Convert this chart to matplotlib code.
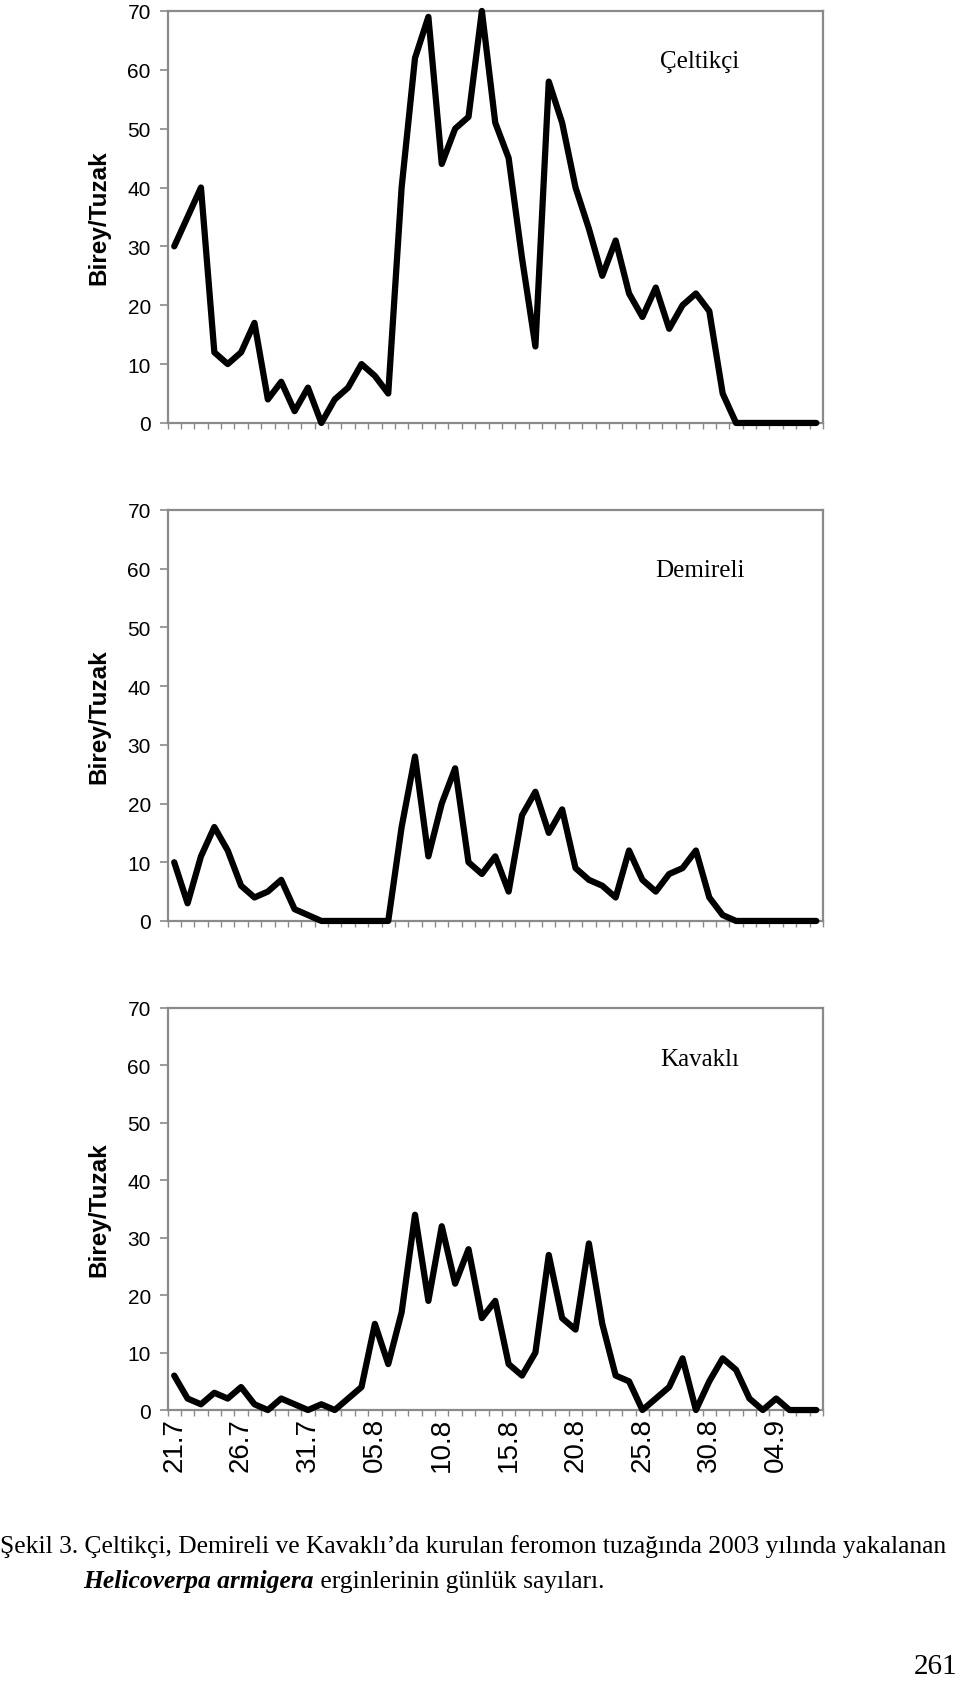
import numpy as np
import matplotlib
matplotlib.use('Agg')
from matplotlib import pyplot as plt

plt.rcParams['font.family'] = ['Liberation Sans', 'DejaVu Sans']

# daily trap catches, 21.7 - 07.9 (2003)
dates = ['21.7', '22.7', '23.7', '24.7', '25.7', '26.7', '27.7', '28.7', '29.7', '30.7',
         '31.7', '01.8', '02.8', '03.8', '04.8', '05.8', '06.8', '07.8', '08.8', '09.8',
         '10.8', '11.8', '12.8', '13.8', '14.8', '15.8', '16.8', '17.8', '18.8', '19.8',
         '20.8', '21.8', '22.8', '23.8', '24.8', '25.8', '26.8', '27.8', '28.8', '29.8',
         '30.8', '31.8', '01.9', '02.9', '03.9', '04.9', '05.9', '06.9', '07.9']
tick_labels = ['21.7', '26.7', '31.7', '05.8', '10.8', '15.8', '20.8', '25.8', '30.8', '04.9']

celtikci = [30, 35, 40, 12, 10, 12, 17, 4, 7, 2,
            6, 0, 4, 6, 10, 8, 5, 40, 62, 69,
            44, 50, 52, 70, 51, 45, 28, 13, 58, 51,
            40, 33, 25, 31, 22, 18, 23, 16, 20, 22,
            19, 5, 0, 0, 0, 0, 0, 0, 0]
demireli = [10, 3, 11, 16, 12, 6, 4, 5, 7, 2,
            1, 0, 0, 0, 0, 0, 0, 16, 28, 11,
            20, 26, 10, 8, 11, 5, 18, 22, 15, 19,
            9, 7, 6, 4, 12, 7, 5, 8, 9, 12,
            4, 1, 0, 0, 0, 0, 0, 0, 0]
kavakli = [6, 2, 1, 3, 2, 4, 1, 0, 2, 1,
           0, 1, 0, 2, 4, 15, 8, 17, 34, 19,
           32, 22, 28, 16, 19, 8, 6, 10, 27, 16,
           14, 29, 15, 6, 5, 0, 2, 4, 9, 0,
           5, 9, 7, 2, 0, 2, 0, 0, 0]

GRAY = '#8a8a8a'
SERIF = ['Liberation Serif', 'DejaVu Serif']

fig = plt.figure(figsize=(9.6, 16.83), dpi=100)
x = np.arange(len(dates))

panels = [
    (celtikci, 'Çeltikçi', [0.1745, 0.7481, 0.6828, 0.2448], 0.879),
    (demireli, 'Demireli', [0.1745, 0.4522, 0.6828, 0.2442], 0.854),
    (kavakli, 'Kavaklı', [0.1745, 0.1616, 0.6828, 0.2389], 0.873),
]

for i, (vals, name, rect, ty) in enumerate(panels):
    ax = fig.add_axes(rect)
    ax.plot(x, vals, color='black', lw=4.5, solid_joinstyle='round',
            solid_capstyle='round', clip_on=False, zorder=3)
    ax.set_xlim(-0.5, len(dates) - 0.5)
    ax.set_ylim(0, 70)
    ax.set_yticks(range(0, 71, 10))
    ax.set_xticks(x[::5])
    ax.set_xticks(np.arange(-0.5, len(dates)), minor=True)
    ax.tick_params(axis='x', which='major', length=0, pad=5)
    ax.tick_params(axis='x', which='minor', length=4, color=GRAY, width=1)
    ax.tick_params(axis='y', length=6, color=GRAY, width=1.2, labelsize=15, pad=6)
    if i == 2:
        ax.set_xticklabels(tick_labels, rotation=90, fontsize=20)
    else:
        ax.set_xticklabels([])
    for s in ax.spines.values():
        s.set_color(GRAY)
        s.set_linewidth(1.6)
    ax.text(0.812, ty, name, transform=ax.transAxes, ha='center', va='center',
            family=SERIF, fontsize=18)
    fig.text(0.103, rect[1] + rect[3] / 2, 'Birey/Tuzak', rotation=90,
             ha='center', va='center', fontweight='bold', fontsize=17.5)

fig.text(0.0, 1 - 1547 / 1683,
         'Şekil 3. Çeltikçi, Demireli ve Kavaklı\u2019da kurulan feromon tuzağında '
         '2003 yılında yakalanan',
         ha='left', va='center', family=SERIF, fontsize=18.4)
t1 = fig.text(83 / 960, 1 - 1582 / 1683, 'Helicoverpa armigera', ha='left',
              va='center', family=SERIF, fontsize=18.4, fontweight='bold',
              style='italic')
plt.annotate(' erginlerinin günlük sayıları.', xy=(1, 0), xycoords=t1,
             ha='left', va='bottom', family=SERIF, fontsize=18.4,
             annotation_clip=False)
fig.text(0.997, 1 - 1667 / 1683, '261', ha='right', va='center',
         family=SERIF, fontsize=21)

fig.savefig('out.png', dpi=100)
plt.close(fig)
